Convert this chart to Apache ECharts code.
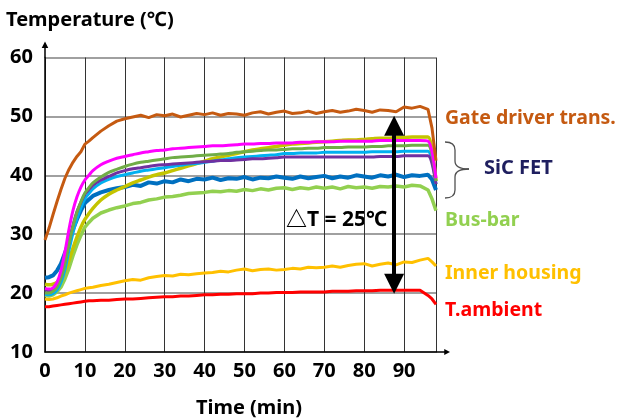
<!DOCTYPE html>
<html><head><meta charset="utf-8">
<script src="https://cdn.jsdelivr.net/npm/echarts@6/dist/echarts.min.js"></script>
<style>html,body{margin:0;padding:0;background:#fff}#c{width:617px;height:419px}</style>
</head><body><div id="c"></div>
<script>
const times = [0,1,2,3,4,5,6,7,8,9,10,11,12,
  14,16,18,20,22,24,26,28,30,32, 34,36,38,40,42,44,46,48,50,52, 54,56,58,60,62,64,66,68,70,72, 74,76,78,80,82,84,86,88,90,92, 94,96,
  97,98];
const xTicks = [0,10,20,30,40,50,60,70,80,90];
const yTicks = [10,20,30,40,50,60];

const gateDriver = [29.0,31.0,33.3,35.5,37.6,39.5,41.0,42.2,43.2,44.0,45.3,45.8,46.4,
  47.5,48.4,49.2,49.6,49.9,50.2,49.8,50.3,50.1,50.4, 49.9,50.2,50.5,50.3,50.6,50.2,50.5,50.4,50.2,50.6,
  50.8,50.4,50.7,50.9,50.5,50.6,50.9,50.5,50.8,51.0, 50.7,50.9,51.2,51.0,50.7,51.1,51.0,50.8,51.6,51.4, 51.7,51.2,
  48.0,42.5];
const fetMagenta = [20.8,20.7,20.9,21.8,23.8,27.0,30.8,34.0,36.3,38.0,39.2,40.0,40.8,
  41.8,42.4,42.9,43.2,43.5,43.8,44.0,44.2,44.3,44.5, 44.6,44.7,44.8,44.9,45.0,45.0,45.1,45.2,45.3,45.3,
  45.4,45.4,45.5,45.5,45.5,45.6,45.6,45.7,45.7,45.7, 45.8,45.8,45.8,45.8,45.8,45.9,45.9,45.9,45.9,45.9, 45.9,45.8,
  44.0,39.5];
const fetGreen = [20.0,20.0,20.3,21.0,22.5,25.0,28.3,31.3,33.7,35.5,37.0,37.9,38.7,
  39.7,40.5,41.0,41.5,41.9,42.2,42.4,42.6,42.8,43.0, 43.1,43.2,43.3,43.4,43.5,43.6,43.7,43.9,44.0,44.1,
  44.2,44.3,44.3,44.4,44.5,44.5,44.6,44.6,44.7,44.7, 44.7,44.8,44.8,44.8,44.9,44.9,45.0,45.0,45.0,45.1, 45.1,45.1,
  43.5,39.0];
const fetPurple = [20.5,20.4,20.6,21.4,22.9,25.4,28.6,31.5,33.8,35.4,36.8,37.6,38.3,
  39.2,39.8,40.4,40.8,41.1,41.3,41.5,41.7,41.8,41.9, 42.0,42.1,42.2,42.3,42.4,42.5,42.5,42.6,42.7,42.8,
  42.8,42.9,43.0,43.1,43.1,43.1,43.1,43.1,43.1,43.1, 43.1,43.1,43.1,43.1,43.1,43.2,43.2,43.2,43.3,43.3, 43.3,43.3,
  42.0,38.5];
const fetCyan = [19.8,19.7,19.9,20.5,21.8,24.0,27.2,30.2,32.6,34.5,36.0,36.9,37.7,
  38.7,39.3,39.8,40.1,40.4,40.7,40.9,41.1,41.3,41.5, 41.7,41.9,42.0,42.2,42.4,42.6,42.8,43.0,43.1,43.2,
  43.3,43.4,43.5,43.7,43.7,43.8,43.8,43.8,43.9,43.9, 43.9,43.9,43.9,43.9,44.0,44.0,44.0,44.0,44.1,44.1, 44.1,44.1,
  42.5,38.5];
const fetYellow = [21.5,21.4,21.5,21.8,22.5,23.7,25.5,27.6,29.5,31.2,32.5,33.5,34.4,
  35.8,36.8,37.5,38.1,38.7,39.2,39.7,40.1,40.4,40.8, 41.2,41.6,42.0,42.4,42.8,43.1,43.4,43.7,44.0,44.3,
  44.5,44.7,44.9,45.1,45.3,45.4,45.5,45.6,45.7,45.8, 45.9,46.0,46.0,46.1,46.2,46.3,46.3,46.4,46.4,46.5, 46.5,46.5,
  44.5,39.0];
const fetBlue = [22.6,22.7,23.0,23.8,25.0,26.8,28.8,30.8,32.5,34.0,35.3,35.9,36.5,
  37.1,37.5,37.8,38.0,38.4,38.2,38.8,38.6,39.0,38.8, 39.3,39.0,39.4,39.3,39.6,39.2,39.5,39.4,39.7,39.3,
  39.6,39.5,39.8,39.6,39.4,39.8,39.5,39.7,39.9,39.5, 39.8,39.6,40.0,39.8,39.6,40.0,39.8,40.1,39.7,40.0, 39.9,40.1,
  39.3,37.5];
const busBar = [19.6,19.5,19.7,20.2,21.0,22.4,24.2,26.3,28.2,29.8,31.2,32.0,32.7,
  33.6,34.1,34.5,34.8,35.2,35.4,35.8,36.0,36.3,36.4, 36.6,36.9,37.0,37.1,37.3,37.2,37.4,37.3,37.6,37.4,
  37.7,37.5,37.8,37.9,37.6,37.9,37.7,38.0,37.8,38.0, 37.7,38.1,37.9,38.0,37.8,38.1,38.0,38.2,38.0,38.3, 38.2,37.5,
  36.0,34.0];
const innerHousing = [19.0,18.9,19.0,19.2,19.5,19.7,20.0,20.2,20.4,20.6,20.8,20.9,21.0,
  21.3,21.5,21.8,22.1,22.3,22.2,22.6,22.8,23.0,22.9, 23.2,23.1,23.3,23.4,23.5,23.7,23.6,23.9,24.1,23.8,
  24.0,24.1,23.9,24.0,24.2,24.1,24.4,24.3,24.4,24.6, 24.4,24.7,24.9,25.0,24.6,24.9,25.1,24.8,25.3,25.2, 25.6,25.9,
  25.3,24.6];
const tAmbient = [17.7,17.7,17.8,17.9,18.0,18.1,18.2,18.3,18.4,18.5,18.6,18.7,18.7,
  18.8,18.8,18.9,19.0,19.0,19.1,19.2,19.3,19.4,19.4, 19.5,19.5,19.6,19.7,19.7,19.8,19.8,19.9,19.9,19.9,
  20.0,20.0,20.1,20.1,20.1,20.2,20.2,20.2,20.2,20.3, 20.3,20.3,20.4,20.4,20.4,20.5,20.5,20.5,20.5,20.5, 20.5,19.6,
  19.0,18.1];

const deltaTTime = 87.5;
const deltaTTop = 50;
const deltaTBottom = 20;
const deltaTLabel = '△T = 25℃';

const FONT = "'Noto Sans','Noto Sans CJK KR',sans-serif";
const pairs = v => times.map((t, i) => [t, v[i]]);

const seriesDefs = [
  { name: 'T.ambient', data: tAmbient, color: '#FF0000', w: 3, smooth: false },
  { name: 'Inner housing', data: innerHousing, color: '#FFC000', w: 3, smooth: false },
  { name: 'Bus-bar', data: busBar, color: '#92D050', w: 3.5, smooth: false },
  { name: 'FET blue', data: fetBlue, color: '#0070C0', w: 4, smooth: false },
  { name: 'FET yellow', data: fetYellow, color: '#C4C400', w: 3.5, smooth: 0.3 },
  { name: 'FET cyan', data: fetCyan, color: '#00B0F0', w: 3, smooth: 0.3 },
  { name: 'FET purple', data: fetPurple, color: '#7030A0', w: 3, smooth: 0.3 },
  { name: 'FET green', data: fetGreen, color: '#70AD47', w: 3, smooth: 0.3 },
  { name: 'FET magenta', data: fetMagenta, color: '#FF00FF', w: 3, smooth: 0.3 },
  { name: 'Gate driver trans.', data: gateDriver, color: '#C55A11', w: 3, smooth: false }
];

const series = seriesDefs.map(s => ({
  type: 'line', name: s.name, data: pairs(s.data), showSymbol: false, smooth: s.smooth,
  lineStyle: { color: s.color, width: s.w }, itemStyle: { color: s.color }, animation: false, z: 3
}));

series.push({
  type: 'line', name: 'deltaT', data: [], animation: false, z: 5,
  markLine: {
    silent: true, animation: false, symbol: ['triangle', 'triangle'], symbolSize: [20, 20],
    label: { show: false },
    lineStyle: { color: '#000', width: 4, type: 'solid' },
    emphasis: { disabled: true },
    data: [[{ coord: [deltaTTime, deltaTTop - 1.6] }, { coord: [deltaTTime, deltaTBottom + 1.6] }]]
  }
});

// arrow with stem, pointing up (ECharts rotates it along the axis direction)
const ARROW = 'path://M3.5,0 L7,7 L4.3,7 L4.3,17 L2.7,17 L2.7,7 L0,7 Z';

const GL = 45, GT = 57.5, GR = 181, GB = 67;

const txt = (text, color, x, y, size, align) => ({
  type: 'text', x: x, y: y,
  style: { text: text, fill: color, font: `bold ${size}px ${FONT}`, textAlign: align || 'left', textVerticalAlign: 'middle' }
});
const bz = (x1, y1, cx, cy, x2, y2) => ({ type: 'bezierCurve', shape: { x1: x1, y1: y1, cpx1: cx, cpy1: cy, x2: x2, y2: y2 }, style: { stroke: '#505050', lineWidth: 1.3 } });
const ln = (x1, y1, x2, y2, color, w) => ({ type: 'line', shape: { x1: x1, y1: y1, x2: x2, y2: y2 }, style: { stroke: color, lineWidth: w } });

const chart = echarts.init(document.getElementById('c'), null, { renderer: 'canvas' });
chart.setOption({
  backgroundColor: '#fff',
  animation: false,
  grid: { left: GL, right: GR, top: GT, bottom: GB, containLabel: false },
  xAxis: {
    type: 'value', min: 0, max: 98, interval: 10,
    axisLine: { lineStyle: { color: '#000', width: 1.5 }, symbol: ['none', ARROW], symbolSize: [7, 14], symbolOffset: [0, 7] },
    axisTick: { show: false },
    axisLabel: {
      color: '#000', fontSize: 20, fontWeight: 'bold', fontFamily: FONT, margin: 9,
      formatter: v => xTicks.includes(v) ? String(v) : ''
    },
    splitLine: { show: true, lineStyle: { color: '#333', width: 1 } }
  },
  yAxis: {
    type: 'value', min: 10, max: 60, interval: 10,
    axisLine: { show: true, lineStyle: { color: '#000', width: 1.5 }, symbol: ['none', ARROW], symbolSize: [7, 16], symbolOffset: [0, 8] },
    axisTick: { show: false },
    axisLabel: {
      color: '#000', fontSize: 20, fontWeight: 'bold', fontFamily: FONT, margin: 12,
      formatter: v => yTicks.includes(v) ? String(v) : ''
    },
    splitLine: { show: true, lineStyle: { color: '#808080', width: 1.5 } }
  },
  graphic: { elements: [
    // titles
    txt('Temperature (℃)', '#000', 6, 20, 20),
    txt('Time (min)', '#000', 249, 408, 20, 'center'),
    // series labels
    txt('Gate driver trans.', '#C55A11', 445, 118, 19.5),
    txt('SiC FET', '#1F1F5F', 484, 168, 20),
    txt('Bus-bar', '#92D050', 445, 220, 19.5),
    txt('Inner housing', '#FFC000', 445, 273, 19.5),
    txt('T.ambient', '#FF0000', 445, 310, 19.5),
    // brace
    bz(445, 142, 455, 142, 455, 150),
    ln(455, 150, 455, 161, '#505050', 1.3),
    bz(455, 161, 455, 169, 469, 169),
    bz(469, 169, 455, 169, 455, 177),
    ln(455, 177, 455, 190, '#505050', 1.3),
    bz(455, 190, 455, 198, 445, 198)
  ] },
  series: series
});

const pDelta = chart.convertToPixel({ xAxisIndex: 0, yAxisIndex: 0 }, [deltaTTime, 36.7]);
chart.setOption({
  graphic: { elements: [
    { id: 'deltaText', type: 'text', x: pDelta[0] - 7, y: 220,
      style: { text: deltaTLabel, fill: '#000', font: `bold 21px ${FONT}`, textAlign: 'right', textVerticalAlign: 'middle' } }
  ] }
});
</script>
</body></html>
